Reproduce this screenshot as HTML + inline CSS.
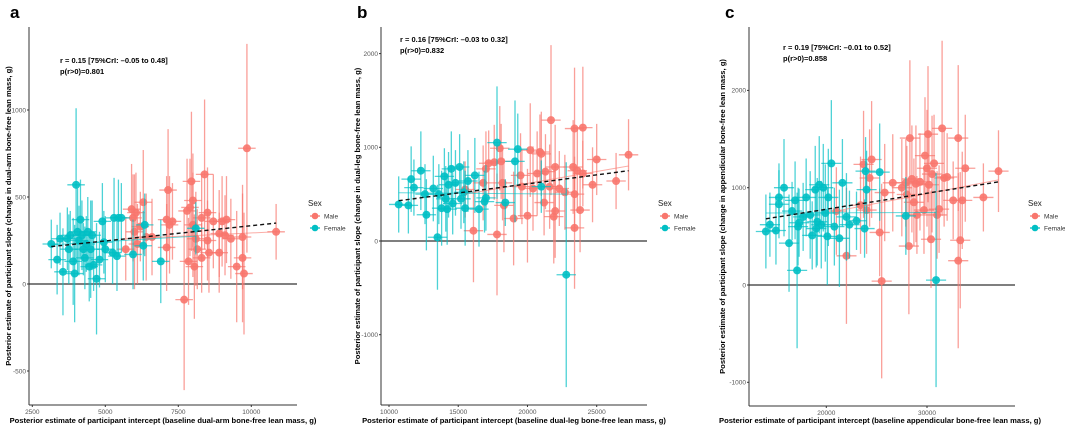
<!DOCTYPE html>
<html><head><meta charset="utf-8"><style>
body{margin:0;background:#fff;width:1065px;height:427px;overflow:hidden;font-family:"Liberation Sans",sans-serif}
svg text{font-family:"Liberation Sans",sans-serif}
</style></head><body>
<svg id="chart" width="1065" height="427" viewBox="0 0 1065 427" xmlns="http://www.w3.org/2000/svg"></svg>
<script>
// ---- data: [x, y, half-width of y interval] ----
const maleA=[[5700,200,180],[5900,430,260],[5950,380,250],[6050,410,230],[6000,300,330],[6100,230,230],[6200,330,200],[6300,470,300],[6400,270,250],[6600,270,220],[7100,370,250],[7150,540,350],[7100,210,250],[7200,340,280],[7300,360,220],[7700,-90,520],[7800,420,300],[7850,130,250],[7900,440,280],[7950,590,400],[8000,480,270],[8050,100,300],[8000,340,300],[8100,260,270],[8150,200,230],[8300,150,200],[8300,380,250],[8400,630,430],[8500,410,260],[8500,250,230],[8550,180,230],[8700,360,270],[8900,180,230],[8900,290,250],[9000,360,260],[9100,280,230],[9150,370,250],[9300,260,230],[9500,100,320],[9700,270,300],[9700,150,370],[9750,60,350],[9850,780,600],[10850,300,160]];
const femaleA=[[3150,230,140],[3350,140,200],[3450,260,150],[3550,70,250],[3700,260,180],[3750,200,200],[3800,280,140],[3900,130,250],[3950,60,280],[4000,570,440],[4050,300,250],[4100,250,200],[4150,370,230],[4200,280,200],[4250,200,150],[4300,150,180],[4350,230,160],[4400,300,200],[4450,100,200],[4500,200,280],[4550,280,200],[4600,110,150],[4700,30,320],[4800,140,160],[4900,360,220],[4950,240,180],[5000,200,190],[5250,180,180],[5300,380,230],[5400,160,200],[5450,380,220],[5550,380,200],[5950,170,200],[6300,220,200],[6350,340,180],[6900,130,240],[8100,320,150]];
const maleB=[[15500,550,300],[16100,110,550],[16800,620,400],[17000,770,400],[17200,830,350],[17600,840,400],[17800,70,650],[18000,990,450],[18100,850,400],[18200,620,400],[18300,380,500],[19000,240,500],[19500,700,450],[19600,580,400],[20000,270,500],[20200,970,500],[20400,560,450],[20700,720,450],[20900,950,400],[21000,930,450],[21200,410,350],[21300,740,400],[21600,580,450],[21700,1290,800],[21900,260,500],[22000,320,500],[22000,790,450],[22300,560,400],[22700,520,400],[23300,790,500],[23400,1200,650],[23400,140,650],[23400,500,400],[23600,750,450],[23800,330,450],[24000,1210,650],[24000,720,350],[24700,600,400],[25000,870,380],[26400,640,300],[27300,920,380]];
const femaleB=[[10700,390,300],[11400,380,300],[11600,660,350],[11800,570,300],[12300,750,420],[12600,500,320],[12700,280,380],[13200,560,350],[13500,40,560],[13600,500,320],[13800,350,400],[14000,690,300],[14100,450,350],[14200,340,380],[14300,600,350],[14500,770,400],[14600,400,330],[14800,620,350],[15100,790,350],[15200,450,320],[15400,520,330],[15500,350,400],[15700,640,330],[16200,700,400],[16500,340,400],[16900,420,330],[17000,460,350],[17800,1050,600],[18400,410,250],[19100,850,650],[19300,980,380],[21000,580,280],[22800,-360,1200]];
const maleC=[[21000,760,450],[22000,300,700],[23400,820,500],[23700,1240,550],[24000,770,450],[24300,1100,500],[24500,1290,600],[25300,540,450],[25500,40,1000],[25800,950,500],[26600,1050,500],[27500,1000,500],[27900,1050,450],[28000,930,500],[28200,400,700],[28300,1510,800],[28500,1090,550],[28700,850,450],[28900,1040,600],[29000,720,400],[29300,1060,500],[29700,770,450],[29800,1330,600],[30000,1200,600],[30100,1550,700],[30200,1030,550],[30400,470,500],[30500,1140,600],[30700,1250,500],[31000,720,450],[31200,780,450],[31500,1610,900],[31700,1100,500],[32000,1110,450],[32600,870,400],[33100,1510,750],[33100,250,900],[33300,460,700],[33500,870,500],[33800,1200,550],[35600,900,350],[37100,1170,420]];
const femaleC=[[14000,550,380],[14400,620,330],[15000,560,350],[15300,900,350],[15300,830,350],[15800,1000,500],[16300,430,500],[16600,760,300],[16900,870,400],[17100,150,800],[17200,600,400],[17300,640,350],[17700,700,350],[18000,900,400],[18400,720,450],[18600,510,350],[18900,980,450],[19000,580,400],[19100,650,450],[19300,1030,500],[19500,620,450],[19700,1000,450],[19900,740,500],[20100,500,500],[20200,900,500],[20500,1250,650],[20800,600,400],[21300,480,500],[21600,1050,450],[22000,700,450],[22300,620,350],[23000,660,300],[23800,580,300],[23900,1170,350],[24000,980,400],[25300,1160,500],[27900,710,400],[30900,50,1100]];
const xTicksA=[2500,5000,7500,10000], yTicksA=[-500,0,500,1000];
const xTicksB=[10000,15000,20000,25000], yTicksB=[-1000,0,1000,2000];
const xTicksC=[20000,30000], yTicksC=[-1000,0,1000,2000];
const fitA=[[3150,215],[10850,350]], fitB=[[10700,430],[27300,750]], fitC=[[14000,680],[37100,1060]];
const mFitA=[[5700,260],[10850,300]], fFitA=[[3150,225],[8100,275]];
const mFitB=[[15500,500],[27300,800]], fFitB=[[10700,515],[22800,500]];
const mFitC=[[21000,760],[37100,1080]], fFitC=[[14000,740],[30900,745]];
const xErrA=300, xErrB=700, xErrC=1000;

const NS="http://www.w3.org/2000/svg";
const svg=document.getElementById('chart');
function mk(tag,attrs,parent,text){const e=document.createElementNS(NS,tag);for(const k in attrs)e.setAttribute(k,attrs[k]);if(text!==undefined)e.textContent=text;(parent||svg).appendChild(e);return e;}
const MALE="#F8766D",FEMALE="#00BFC4";

const panels=[
 {id:'a',L:29,R:297,T:27,B:405,x0:2500,px0:32.3,x1:10000,px1:251.3,y0:0,py0:284,y1:1000,py1:110,
  male:maleA,female:femaleA,xt:xTicksA,yt:yTicksA,fit:fitA,mf:mFitA,ff:fFitA,xe:xErrA,
  letterX:10,ann:[60,63],leg:308,ytitleX:8,
  ytitle:"Posterior estimate of participant slope (change in dual-arm bone-free lean mass, g)",
  xtitle:"Posterior estimate of participant intercept (baseline dual-arm bone-free lean mass, g)",xtX:163,
  annT:"r = 0.15 [75%CrI: \u20130.05 to 0.48]",p:"p(r>0)=0.801"},
 {id:'b',L:381,R:647,T:27,B:405,x0:10000,px0:389,x1:25000,px1:596.7,y0:0,py0:241,y1:1000,py1:147.3,
  male:maleB,female:femaleB,xt:xTicksB,yt:yTicksB,fit:fitB,mf:mFitB,ff:fFitB,xe:xErrB,
  letterX:357,ann:[400,42],leg:658,ytitleX:357,
  ytitle:"Posterior estimate of participant slope (change in dual-leg bone-free lean mass, g)",
  xtitle:"Posterior estimate of participant intercept (baseline dual-leg bone-free lean mass, g)",xtX:514,
  annT:"r = 0.16 [75%CrI: \u20130.03 to 0.32]",p:"p(r>0)=0.832"},
 {id:'c',L:749,R:1015,T:27,B:406,x0:20000,px0:826.3,x1:30000,px1:927,y0:0,py0:285,y1:1000,py1:187.7,
  male:maleC,female:femaleC,xt:xTicksC,yt:yTicksC,fit:fitC,mf:mFitC,ff:fFitC,xe:xErrC,
  letterX:725,ann:[783,50],leg:1028,ytitleX:722,
  ytitle:"Posterior estimate of participant slope (change in appendicular bone-free lean mass, g)",
  xtitle:"Posterior estimate of participant intercept (baseline appendicular bone-free lean mass, g)",xtX:880,
  annT:"r = 0.19 [75%CrI: \u20130.01 to 0.52]",p:"p(r>0)=0.858"}
];

panels.forEach(P=>{
 const g=mk('g',{});
 
 
 const sx=v=>P.px0+(v-P.x0)*(P.px1-P.px0)/(P.x1-P.x0);
 const sy=v=>P.py0+(v-P.y0)*(P.py1-P.py0)/(P.y1-P.y0);
 const clampY=v=>Math.max(P.T,Math.min(P.B,v));
 const t=mk('text',{x:P.letterX,y:18,'font-size':17,'font-weight':'bold',fill:'#000'},g,P.id);
 
 
 // zero line
 const z=mk('line',{x1:P.L,x2:P.R,y1:sy(0),y2:sy(0),stroke:'#333','stroke-width':1.2},g);
 
 
 // axes
 const ya=mk('line',{x1:P.L,x2:P.L,y1:P.T,y2:P.B,stroke:'#333','stroke-width':1},g);
 
 
 const xa=mk('line',{x1:P.L,x2:P.R,y1:P.B,y2:P.B,stroke:'#333','stroke-width':1},g);
 
 
 P.xt.forEach(v=>{
  mk('line',{x1:sx(v),x2:sx(v),y1:P.B,y2:P.B+2,stroke:'#333'},g);
  const l=mk('text',{x:sx(v),y:P.B+9,'font-size':6.5,fill:'#555','text-anchor':'middle'},g,String(v));
  
  
 });
 P.yt.forEach(v=>{
  mk('line',{x1:P.L-2,x2:P.L,y1:sy(v),y2:sy(v),stroke:'#333'},g);
  const l=mk('text',{x:P.L-3,y:sy(v)+2.3,'font-size':6.5,fill:'#555','text-anchor':'end'},g,String(v));
  
  
 });
 // points
 const drawSet=(arr,col,name)=>{
  const sg=mk('g',{},g);
  
  
  arr.forEach(d=>{
   const cx=sx(d[0]),cy=sy(d[1]);
   mk('line',{x1:cx,x2:cx,y1:clampY(sy(d[1]-d[2])),y2:clampY(sy(d[1]+d[2])),stroke:col,'stroke-width':1.3,'stroke-opacity':0.7},sg);
   mk('line',{x1:sx(d[0]-P.xe),x2:sx(d[0]+P.xe),y1:cy,y2:cy,stroke:col,'stroke-width':1.3,'stroke-opacity':0.7},sg);
   const c=mk('circle',{cx:cx,cy:cy,r:4,fill:col,'fill-opacity':0.9},sg);
   
   
  });
 };
 drawSet(P.male,MALE,'male');
 drawSet(P.female,FEMALE,'female');
 const ml=mk('line',{x1:sx(P.mf[0][0]),y1:sy(P.mf[0][1]),x2:sx(P.mf[1][0]),y2:sy(P.mf[1][1]),stroke:MALE,'stroke-width':1,'stroke-opacity':0.6},g);
 
 
 const fl=mk('line',{x1:sx(P.ff[0][0]),y1:sy(P.ff[0][1]),x2:sx(P.ff[1][0]),y2:sy(P.ff[1][1]),stroke:FEMALE,'stroke-width':1,'stroke-opacity':0.6},g);
 
 
 const f=mk('line',{x1:sx(P.fit[0][0]),y1:sy(P.fit[0][1]),x2:sx(P.fit[1][0]),y2:sy(P.fit[1][1]),stroke:'#111','stroke-width':1.4,'stroke-dasharray':'4,3'},g);
 
 
 // annotation
 const a1=mk('text',{x:P.ann[0],y:P.ann[1],'font-size':7.5,'font-weight':'bold',fill:'#000'},g,P.annT);
 
 
 const a2=mk('text',{x:P.ann[0],y:P.ann[1]+11,'font-size':7.5,'font-weight':'bold',fill:'#000'},g,P.p);
 
 
 // titles
 const yt=mk('text',{x:0,y:0,'font-size':7.6,'font-weight':'bold',fill:'#000','text-anchor':'middle',transform:`translate(${P.ytitleX+3},${(P.T+P.B)/2}) rotate(-90)`},g,P.ytitle);
 
 
 const xt=mk('text',{x:P.xtX,y:423,'font-size':7.6,'font-weight':'bold',fill:'#000','text-anchor':'middle'},g,P.xtitle);
 
 
 // legend
 const lg=mk('g',{},g);
 
 
 mk('text',{x:P.leg,y:206,'font-size':8,fill:'#222'},lg,'Sex');
 [['Male',MALE,216],['Female',FEMALE,228]].forEach(e=>{
  const eg=mk('g',{},lg);
  
  
  mk('line',{x1:P.leg+2,x2:P.leg+12,y1:e[2],y2:e[2],stroke:e[1],'stroke-width':1.3},eg);
  mk('circle',{cx:P.leg+7,cy:e[2],r:3.3,fill:e[1]},eg);
  mk('text',{x:P.leg+16,y:e[2]+2.3,'font-size':6.5,fill:'#333'},eg,e[0]);
 });
});
</script>
</body></html>
